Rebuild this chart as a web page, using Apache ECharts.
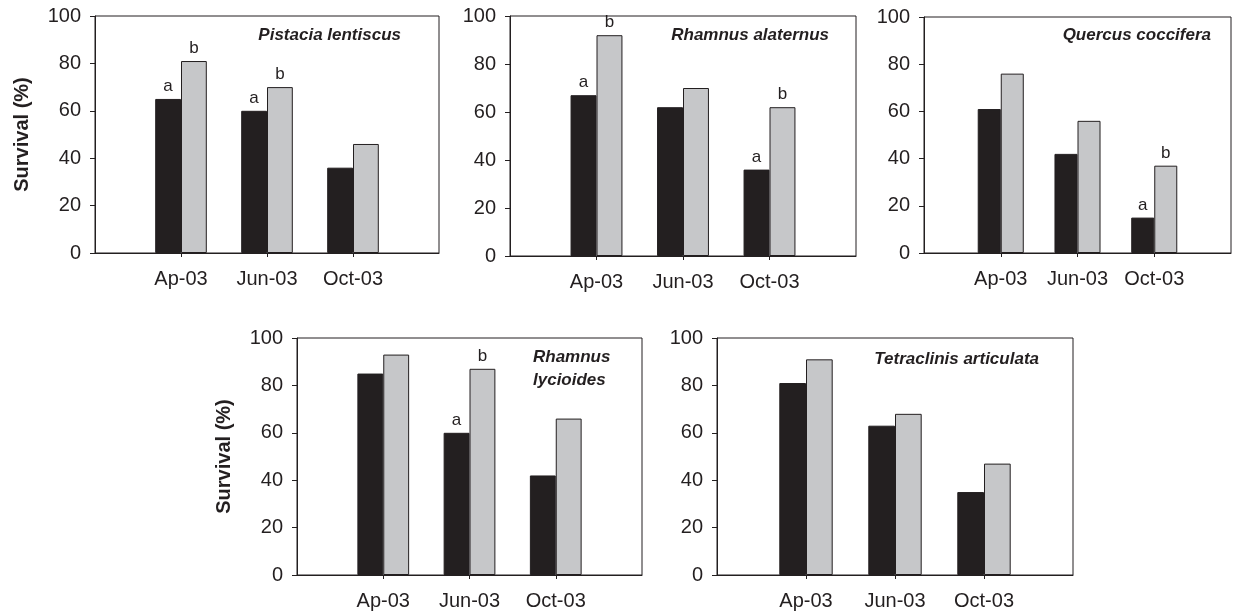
<!DOCTYPE html>
<html>
<head>
<meta charset="utf-8">
<script src="https://cdn.jsdelivr.net/npm/echarts@6/dist/echarts.min.js"></script>
<style>html,body{margin:0;padding:0;background:#fff}#c{width:1234px;height:616px}</style>
</head>
<body>
<div id="c"></div>
<script>
var categories = ['Ap-03', 'Jun-03', 'Oct-03'];
var yTicks = [0, 20, 40, 60, 80, 100];
var species = ['Pistacia lentiscus', 'Rhamnus alaternus', 'Quercus coccifera', 'Rhamnus\nlycioides', 'Tetraclinis articulata'];

var darkPistacia = [65, 60, 36];
var greyPistacia = [81, 70, 46];
var darkAlaternus = [67, 62, 36];
var greyAlaternus = [92, 70, 62];
var darkQuercus = [61, 42, 15];
var greyQuercus = [76, 56, 37];
var darkLycioides = [85, 60, 42];
var greyLycioides = [93, 87, 66];
var darkTetraclinis = [81, 63, 35];
var greyTetraclinis = [91, 68, 47];

var lettersDarkPistacia = ['a', 'a', ''];
var lettersGreyPistacia = ['b', 'b', ''];
var lettersDarkAlaternus = ['a', '', 'a'];
var lettersGreyAlaternus = ['b', '', 'b'];
var lettersDarkQuercus = ['', '', 'a'];
var lettersGreyQuercus = ['', '', 'b'];
var lettersDarkLycioides = ['', 'a', ''];
var lettersGreyLycioides = ['', 'b', ''];
var lettersDarkTetraclinis = ['', '', ''];
var lettersGreyTetraclinis = ['', '', ''];

var darkSets = [darkPistacia, darkAlaternus, darkQuercus, darkLycioides, darkTetraclinis];
var greySets = [greyPistacia, greyAlaternus, greyQuercus, greyLycioides, greyTetraclinis];
var darkLetters = [lettersDarkPistacia, lettersDarkAlaternus, lettersDarkQuercus, lettersDarkLycioides, lettersDarkTetraclinis];
var greyLetters = [lettersGreyPistacia, lettersGreyAlaternus, lettersGreyQuercus, lettersGreyLycioides, lettersGreyTetraclinis];

var INK = '#231f20';
var FONT = "'Liberation Sans', Arial, sans-serif";

var grids = [
  {left: 95, top: 16, width: 344, height: 237},
  {left: 510, top: 16, width: 346, height: 240},
  {left: 924, top: 17, width: 318, height: 236},
  {left: 297, top: 338, width: 345, height: 237},
  {left: 717, top: 338, width: 356, height: 237}
];
var showYName = [true, false, false, true, false];

var xCats = [''].concat(categories).concat(['']);

var option = {
  backgroundColor: '#fff',
  animation: false,
  grid: grids.map(function (g) {
    return {left: g.left, top: g.top, width: g.width, height: g.height, show: true,
      borderColor: INK, borderWidth: 1, backgroundColor: 'transparent', containLabel: false};
  }),
  xAxis: grids.map(function (g, i) {
    return {
      type: 'category', gridIndex: i, data: xCats, boundaryGap: false,
      axisLine: {show: true, lineStyle: {color: INK, width: 1}},
      axisTick: {show: true, length: 4, lineStyle: {color: INK},
        interval: function (idx) { return idx >= 1 && idx <= categories.length; }},
      axisLabel: {interval: 0, color: INK, fontSize: 20, fontFamily: FONT, margin: 16},
      splitLine: {show: false}
    };
  }),
  yAxis: grids.map(function (g, i) {
    return {
      type: 'value', gridIndex: i, min: yTicks[0], max: yTicks[yTicks.length - 1],
      interval: yTicks[1] - yTicks[0],
      name: showYName[i] ? 'Survival (%)' : '', nameLocation: 'middle', nameGap: 63,
      nameTextStyle: {color: INK, fontSize: 20, fontWeight: 'bold', fontFamily: FONT},
      axisLine: {show: true, lineStyle: {color: INK, width: 1}},
      axisTick: {show: true, length: 5, lineStyle: {color: INK}},
      axisLabel: {color: INK, fontSize: 20, fontFamily: FONT, margin: 14},
      splitLine: {show: false}
    };
  }),
  graphic: [],
  series: []
};

function mkSeries(i, vals, letters, color) {
  return {
    type: 'bar', xAxisIndex: i, yAxisIndex: i,
    data: [null].concat(vals).concat([null]),
    barWidth: '30%', barGap: '0%',
    itemStyle: {color: color, borderColor: INK, borderWidth: 1},
    label: {show: true, position: 'top', distance: 4, color: INK, fontSize: 17, fontFamily: FONT,
      formatter: function (p) { return letters[p.dataIndex - 1] || ''; }}
  };
}
for (var i = 0; i < 5; i++) {
  option.series.push(mkSeries(i, darkSets[i], darkLetters[i], INK));
  option.series.push(mkSeries(i, greySets[i], greyLetters[i], '#c6c7c9'));
}

var titleFont = "italic bold 17px 'Liberation Sans', Arial, sans-serif";
function tText(txt, x, y, align) {
  return {type: 'text', x: x, y: y, style: {text: txt, textAlign: align, textVerticalAlign: 'middle', fill: INK, font: titleFont}};
}
option.graphic = [
  tText(species[0], 401, 35, 'right'),
  tText(species[1], 829, 35, 'right'),
  tText(species[2], 1211, 35, 'right'),
  {type: 'text', x: 533, y: 346, style: {text: species[3], textAlign: 'left', lineHeight: 23, textVerticalAlign: 'top', fill: INK, font: titleFont}},
  tText(species[4], 1039, 359, 'right')
];

var chart = echarts.init(document.getElementById('c'), null, {renderer: 'canvas'});
chart.setOption(option);
</script>
</body>
</html>
